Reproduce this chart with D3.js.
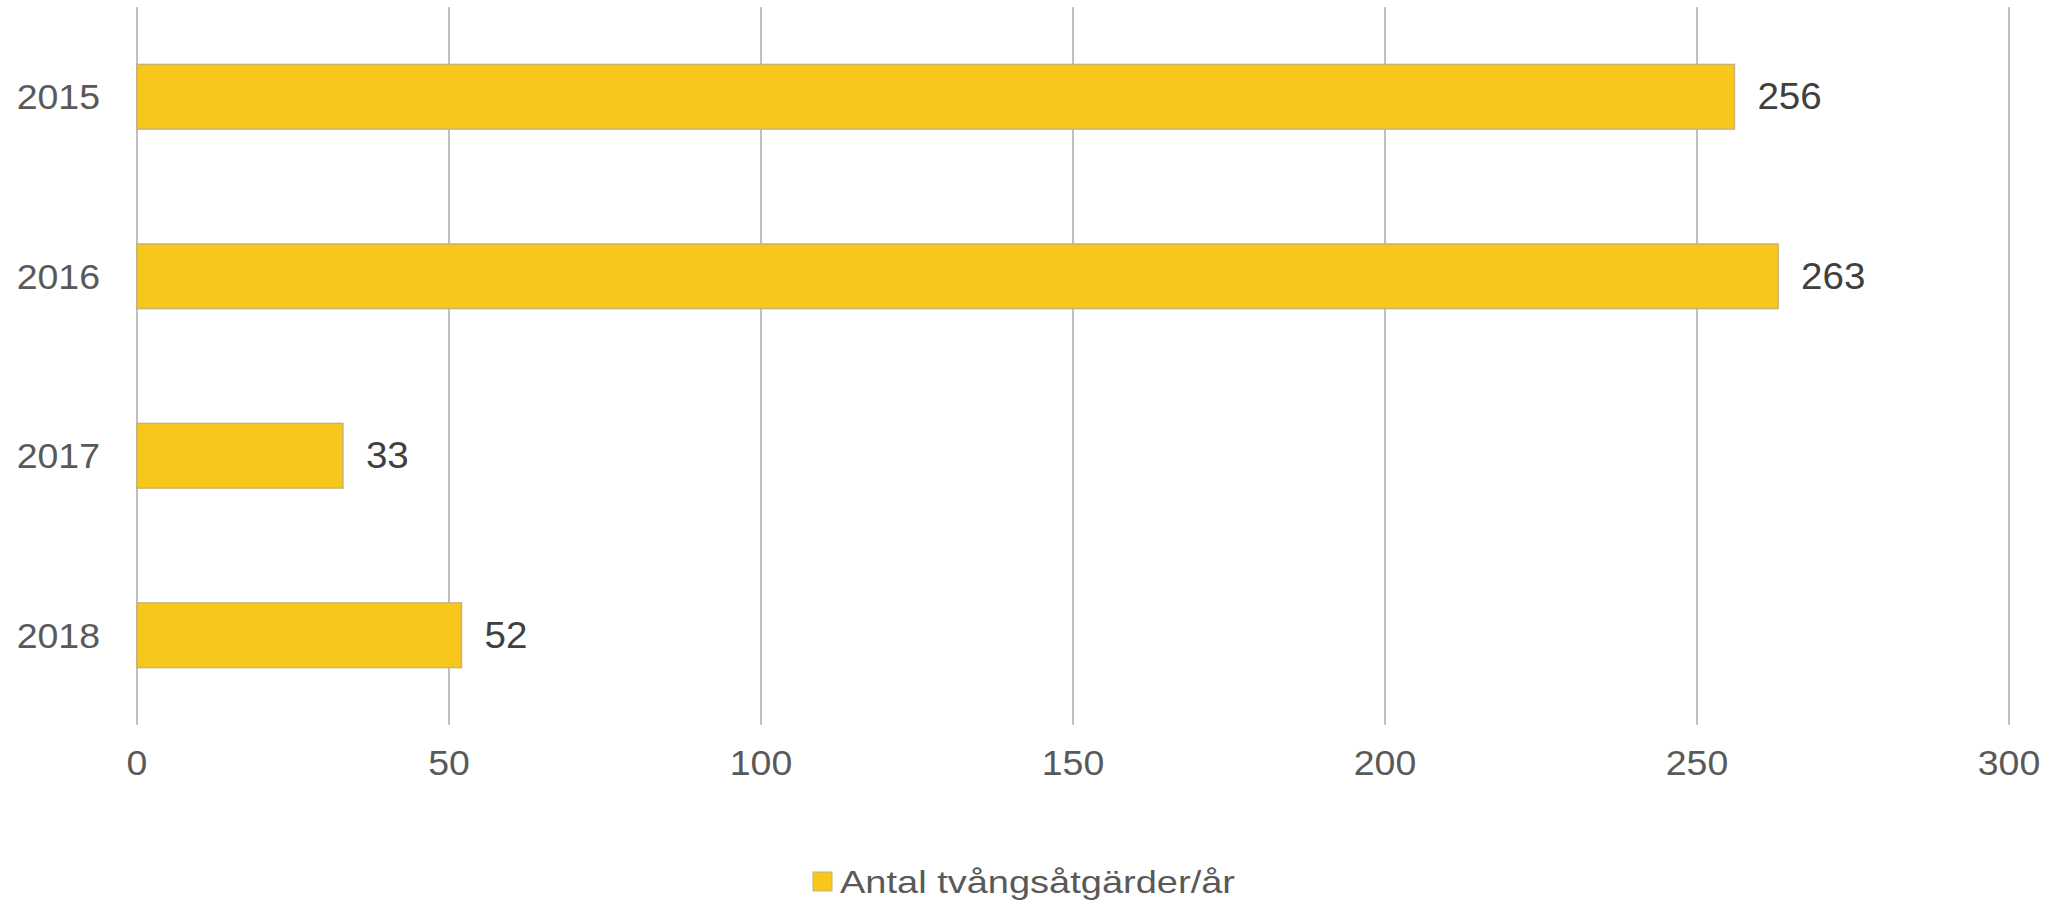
<!DOCTYPE html>
<html>
<head>
<meta charset="utf-8">
<script src="https://cdn.jsdelivr.net/npm/d3@7"></script>
<style>
  body { margin: 0; background: #fff; }
  text { font-family: "Liberation Sans", Arial, sans-serif; fill: #595959; }
</style>
</head>
<body>
<div id="chart"></div>
<script>
// chart data
const years = ["2015", "2016", "2017", "2018"];
const counts = [256, 263, 33, 52];
const xTicks = [0, 50, 100, 150, 200, 250, 300];
const seriesName = "Antal tvångsåtgärder/år";

const W = 2058, H = 901;
const margin = { top: 7, right: 49, bottom: 176, left: 137 },
    width = W - margin.left - margin.right,
    height = H - margin.top - margin.bottom;

const svg = d3.select("#chart")
    .append("svg")
    .attr("width", W)
    .attr("height", H)
    .append("g")
    .attr("transform", `translate(${margin.left}, ${margin.top})`);

// the original font is a bit wider than Liberation Sans, stretch it
function widen(sel, k) {
    sel.each(function () {
        const len = this.getComputedTextLength();
        d3.select(this)
            .attr("textLength", len * k)
            .attr("lengthAdjust", "spacingAndGlyphs");
    });
}

// X scale + gridlines
const x = d3.scaleLinear()
    .domain([0, 300])
    .range([0, width]);

svg.append("g")
    .selectAll("line")
    .data(xTicks)
    .join("line")
    .attr("x1", d => x(d))
    .attr("x2", d => x(d))
    .attr("y1", 0)
    .attr("y2", height)
    .attr("stroke", "#bfbfbf")
    .attr("stroke-width", 2);

svg.append("g")
    .selectAll("text")
    .data(xTicks)
    .join("text")
    .attr("x", d => x(d))
    .attr("y", height + 38)
    .attr("dy", "0.35em")
    .attr("text-anchor", "middle")
    .style("font-size", "35px")
    .text(d => d)
    .call(widen, 1.07);

// Y scale
const y = d3.scaleBand()
    .domain(years)
    .range([0, height])
    .paddingInner(0.64)
    .paddingOuter(0.32);

svg.append("g")
    .selectAll("text")
    .data(years)
    .join("text")
    .attr("x", -37)
    .attr("y", d => y(d) + y.bandwidth() / 2)
    .attr("dy", "0.35em")
    .attr("text-anchor", "end")
    .style("font-size", "35px")
    .text(d => d)
    .call(widen, 1.07);

// bars
const rows = years.map((yr, i) => ({ year: yr, value: counts[i] }));

svg.selectAll("rect.bar")
    .data(rows)
    .join("rect")
    .attr("class", "bar")
    .attr("x", x(0))
    .attr("y", d => y(d.year))
    .attr("width", d => x(d.value) - x(0))
    .attr("height", y.bandwidth())
    .attr("fill", "#f8c71c")
    .attr("stroke", "#c8b272")
    .attr("stroke-width", 1.5);

// value labels
svg.selectAll("text.val")
    .data(rows)
    .join("text")
    .attr("class", "val")
    .attr("x", d => x(d.value) + 23)
    .attr("y", d => y(d.year) + y.bandwidth() / 2)
    .attr("dy", "0.35em")
    .style("font-size", "36px")
    .style("fill", "#404040")
    .text(d => d.value)
    .call(widen, 1.07);

// legend
const legend = svg.append("g")
    .attr("transform", `translate(${813 - margin.left}, ${882 - margin.top})`);
legend.append("rect")
    .attr("x", 0)
    .attr("y", -10)
    .attr("width", 19)
    .attr("height", 19)
    .attr("fill", "#f8c71c")
    .attr("stroke", "#c8b272")
    .attr("stroke-width", 1);
legend.append("text")
    .attr("x", 27)
    .attr("y", 0)
    .attr("dy", "0.35em")
    .attr("textLength", 395)
    .attr("lengthAdjust", "spacingAndGlyphs")
    .style("font-size", "32px")
    .text(seriesName);
</script>
</body>
</html>
